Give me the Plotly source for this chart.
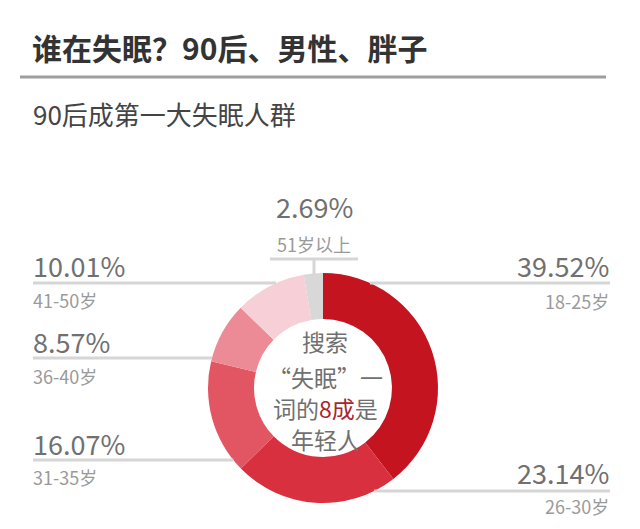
import plotly.graph_objects as go

# ---- data ----
ages = ["18-25岁", "26-30岁", "31-35岁", "36-40岁", "41-50岁", "51岁以上"]
shares = [39.52, 23.14, 16.07, 8.57, 10.01, 2.69]
slice_colors = ["#c3141f", "#d9303f", "#e25563", "#ec8a96", "#f7cfd6", "#d8d8d8"]

title_text = "谁在失眠？90后、男性、胖子"
subtitle_text = "90后成第一大失眠人群"
center_lines = ["搜索", "“失眠”一", "词的<span style='color:#a8262e'>8成</span>是", "年轻人"]

# page has an 8px body margin: figure is sized to fit exactly inside the window
OFF = 8
W, H = 640 - 2 * OFF, 529 - 2 * OFF
FONT = "Noto Sans CJK SC"

# pie geometry (reference pixels)
CX, CY, R = 323, 388, 115


def px(x):
    return (x - OFF) / W


def py(y):
    return 1 - (y - OFF) / H


fig = go.Figure(
    go.Pie(
        values=shares,
        labels=ages,
        sort=False,
        direction="clockwise",
        rotation=0,
        hole=0.6,
        textinfo="none",
        hoverinfo="label+percent",
        marker=dict(colors=slice_colors, line=dict(width=0)),
        domain=dict(x=[px(CX - R), px(CX + R)], y=[py(CY + R), py(CY - R)]),
        showlegend=False,
    )
)

shapes = []
annotations = []

# title / subtitle
annotations.append(dict(text="<b>%s</b>" % title_text, x=px(30), y=py(46.5), xref="paper", yref="paper",
                        xanchor="left", yanchor="middle", showarrow=False,
                        font=dict(family=FONT, size=30, color="#333333")))
shapes.append(dict(type="line", xref="paper", yref="paper", x0=px(20), x1=px(606), y0=py(77), y1=py(77),
                   line=dict(color="#9e9e9e", width=3)))
annotations.append(dict(text=subtitle_text, x=px(31), y=py(113), xref="paper", yref="paper",
                        xanchor="left", yanchor="middle", showarrow=False,
                        font=dict(family=FONT, size=26, color="#444444")))

# label layout: side, pct y, line y, age y
label_pos = {
    "18-25岁": ("right", 265, 283, 301),
    "26-30岁": ("right", 472, 491, 506),
    "31-35岁": ("left", 443, 460, 477),
    "36-40岁": ("left", 341, 358, 376),
    "41-50岁": ("left", 265, 283, 300),
}
LINE_COLOR = "#d6d6d6"
PCT_COLOR = "#707070"
AGE_COLOR = "#9a9a9a"

for age, val in zip(ages, shares):
    pct = "%.2f%%" % val
    if age in label_pos:
        side, ypct, yline, yage = label_pos[age]
        dy = abs(yline - CY)
        dx = (R ** 2 - dy ** 2) ** 0.5 if dy < R else 0
        if side == "left":
            x_txt, anchor = 31, "left"
            x0, x1 = 33, CX - dx
        else:
            x_txt, anchor = 611, "right"
            x0, x1 = CX + dx, 610
        shapes.append(dict(type="line", xref="paper", yref="paper", x0=px(x0), x1=px(x1),
                           y0=py(yline), y1=py(yline), line=dict(color=LINE_COLOR, width=3)))
        annotations.append(dict(text=pct, x=px(x_txt), y=py(ypct), xref="paper", yref="paper",
                                xanchor=anchor, yanchor="middle", showarrow=False,
                                font=dict(family=FONT, size=27, color=PCT_COLOR)))
        annotations.append(dict(text=age, x=px(x_txt), y=py(yage), xref="paper", yref="paper",
                                xanchor=anchor, yanchor="middle", showarrow=False,
                                font=dict(family=FONT, size=18, color=AGE_COLOR)))
    else:
        # top label (51岁以上)
        xc = 314
        annotations.append(dict(text=pct, x=px(xc), y=py(207), xref="paper", yref="paper",
                                xanchor="center", yanchor="middle", showarrow=False,
                                font=dict(family=FONT, size=27, color=PCT_COLOR)))
        annotations.append(dict(text=age, x=px(xc), y=py(244), xref="paper", yref="paper",
                                xanchor="center", yanchor="middle", showarrow=False,
                                font=dict(family=FONT, size=18, color=AGE_COLOR)))
        shapes.append(dict(type="line", xref="paper", yref="paper", x0=px(270), x1=px(358),
                           y0=py(259), y1=py(259), line=dict(color=LINE_COLOR, width=3)))
        shapes.append(dict(type="line", xref="paper", yref="paper", x0=px(xc), x1=px(xc),
                           y0=py(259), y1=py(CY - R + 2), line=dict(color=LINE_COLOR, width=3)))

# center text
for line, yc in zip(center_lines, [341, 377, 408, 439]):
    annotations.append(dict(text=line, x=px(325), y=py(yc), xref="paper", yref="paper",
                            xanchor="center", yanchor="middle", showarrow=False,
                            font=dict(family=FONT, size=23, color="#707070")))

fig.update_layout(
    width=W, height=H,
    margin=dict(l=0, r=0, t=0, b=0),
    paper_bgcolor="white", plot_bgcolor="white",
    showlegend=False,
    shapes=shapes,
    annotations=annotations,
)

fig.write_html("out.html")
